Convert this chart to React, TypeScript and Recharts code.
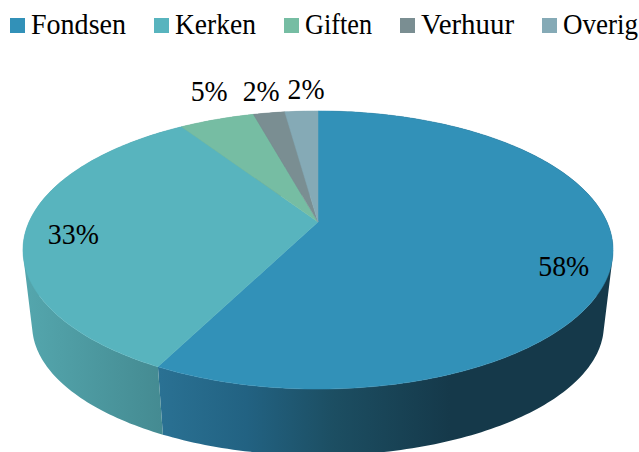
import React from 'react';
import { Legend, Pie, PieChart } from 'recharts';

const categories = ['Fondsen', 'Kerken', 'Giften', 'Verhuur', 'Overig'];
const shares = [57.51, 33.19, 5.0, 2.1, 2.2];
const topColors = ['#3291b8', '#58b4be', '#76bda3', '#7a8e92', '#85aab6'];
const wallFills = ['url(#wallFondsen)', 'url(#wallKerken)', '#5f9f8a', '#63767a', '#6c8c97'];

const legendTextWidths = [95, 81, 67, 93, 75];
const labelRadius = [0.85, 0.85, 1.25, 1.25, 1.25];
const labelNudge = [[-3, 16], [3, 5], [13, -8], [2, -1], [8, -1]];

const topData = categories.map((name, i) => ({ name, value: shares[i], fill: topColors[i] }));
const wallData = categories.map((name, i) => ({ name, value: shares[i], fill: wallFills[i] }));

const FONT = '"Liberation Serif", serif';

// the tilted disc is a projective view of a circle, so the slices meet above the ellipse centre
const TILT = 0.2014;
const topDisc = { a: 289, b: 133.4, dy: 0 };
const baseDisc = { a: 280, b: 125, dy: 77 };

type Disc = typeof topDisc;

const project = (cx: number, cy: number, disc: Disc, angle: number, r = 1) => {
  const rad = (angle * Math.PI) / 180;
  const u = r * Math.cos(rad);
  const v = -r * Math.sin(rad);
  const w = 1 - TILT * v;
  return [cx + (disc.a * u) / w, cy + disc.dy + (disc.b * v) / w];
};

const arcPoints = (cx: number, cy: number, disc: Disc, from: number, to: number) => {
  const steps = Math.max(2, Math.ceil(Math.abs(from - to)));
  const pts: number[][] = [];
  for (let i = 0; i <= steps; i++) {
    pts.push(project(cx, cy, disc, from + ((to - from) * i) / steps));
  }
  return pts;
};

const toPath = (pts: number[][]) =>
  pts.map((p, i) => `${i ? 'L' : 'M'}${p[0].toFixed(2)} ${p[1].toFixed(2)}`).join(' ') + ' Z';

const signedArea = (pts: number[][]) =>
  pts.reduce((sum, p, i) => {
    const q = pts[(i + 1) % pts.length];
    return sum + p[0] * q[1] - q[0] * p[1];
  }, 0);

const TopSlice = (props: any) => {
  const { cx, cy, startAngle, endAngle, fill } = props;
  const pts = [[cx, cy], ...arcPoints(cx, cy, topDisc, startAngle, endAngle)];
  return <path d={toPath(pts)} fill={fill} stroke={fill} strokeWidth={0.5} />;
};

// one quad per step, all wound the same way, so the side edges of the drum fill in
const WallSlice = (props: any) => {
  const { cx, cy, startAngle, endAngle, fill } = props;
  const upper = arcPoints(cx, cy, topDisc, startAngle, endAngle);
  const lower = arcPoints(cx, cy, baseDisc, startAngle, endAngle);
  const quads = upper.slice(1).map((p, i) => {
    const quad = [upper[i], p, lower[i + 1], lower[i]];
    return toPath(signedArea(quad) < 0 ? quad.reverse() : quad);
  });
  return <path d={quads.join(' ')} fill={fill} stroke="none" />;
};

const renderLabel = (props: any) => {
  const { cx, cy, midAngle, percent, index } = props;
  const [x, y] = project(cx, cy, topDisc, midAngle, labelRadius[index]);
  const text = `${Math.round(percent * 100)}%`;
  return (
    <text
      x={x + labelNudge[index][0]}
      y={y + labelNudge[index][1]}
      textAnchor="middle"
      dominantBaseline="central"
      fontFamily={FONT}
      fontSize={30}
      textLength={text.length === 3 ? 51 : 37}
      lengthAdjust="spacingAndGlyphs"
      fill="#000"
    >
      {text}
    </text>
  );
};

const LegendRow = () => (
  <div style={{ display: 'flex', gap: 28 }}>
    {categories.map((name, i) => (
      <div key={name} style={{ display: 'flex', alignItems: 'center' }}>
        <span style={{ width: 15, height: 15, background: topColors[i], marginRight: 6 }} />
        <svg width={legendTextWidths[i]} height={32} style={{ overflow: 'visible' }}>
          <text
            x={0}
            y={25}
            fontFamily={FONT}
            fontSize={30}
            textLength={legendTextWidths[i]}
            lengthAdjust="spacingAndGlyphs"
            fill="#000"
          >
            {name}
          </text>
        </svg>
      </div>
    ))}
  </div>
);

export default function App() {
  return (
    <div style={{ position: 'absolute', left: 0, top: 0, width: 639, height: 452, overflow: 'hidden' }}>
      <PieChart width={639} height={452} margin={{ top: 0, right: 0, bottom: 0, left: 0 }}>
        <defs>
          <linearGradient id="wallFondsen" gradientUnits="userSpaceOnUse" x1={160} y1={0} x2={450} y2={0}>
            <stop offset="0" stopColor="#2a7193" />
            <stop offset="0.3" stopColor="#226282" />
            <stop offset="0.6" stopColor="#1c4e62" />
            <stop offset="1" stopColor="#15394a" />
          </linearGradient>
          <linearGradient id="wallKerken" gradientUnits="userSpaceOnUse" x1={25} y1={0} x2={165} y2={0}>
            <stop offset="0" stopColor="#54a6ad" />
            <stop offset="1" stopColor="#448a91" />
          </linearGradient>
        </defs>
        <Legend
          verticalAlign="middle"
          align="center"
          content={<LegendRow />}
          wrapperStyle={{ position: 'absolute', left: 10, top: 9, width: 629, height: 32 }}
        />
        <Pie
          data={wallData}
          dataKey="value"
          nameKey="name"
          cx={318}
          cy={222}
          outerRadius={100}
          startAngle={90}
          endAngle={-270}
          paddingAngle={0}
          stroke="none"
          legendType="none"
          label={false}
          labelLine={false}
          shape={WallSlice}
          isAnimationActive={false}
        />
        <Pie
          data={topData}
          dataKey="value"
          nameKey="name"
          cx={318}
          cy={222}
          outerRadius={100}
          startAngle={90}
          endAngle={-270}
          paddingAngle={0}
          stroke="none"
          label={renderLabel}
          labelLine={false}
          shape={TopSlice}
          isAnimationActive={false}
        />
      </PieChart>
    </div>
  );
}
